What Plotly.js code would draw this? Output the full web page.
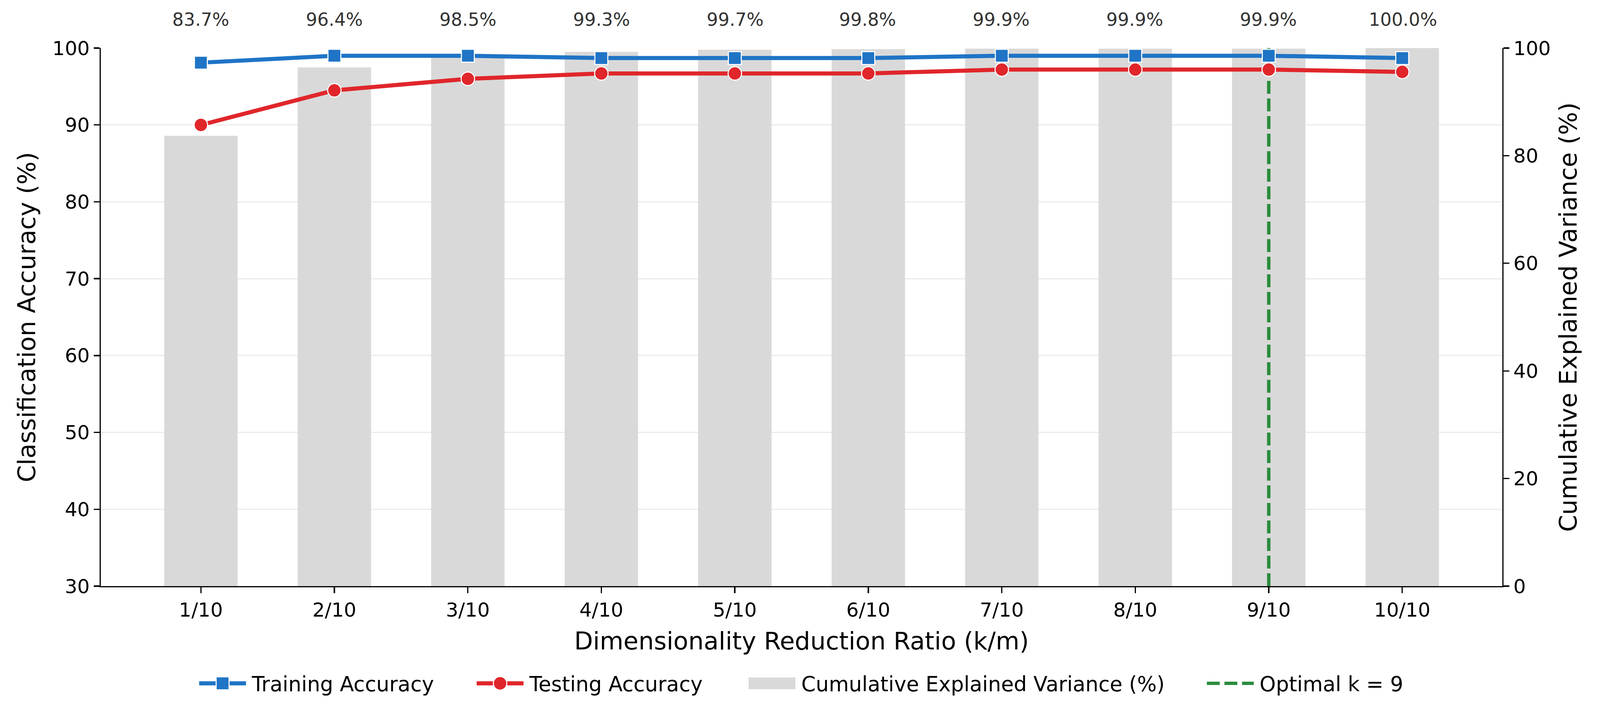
<!DOCTYPE html>
<html>
<head>
<meta charset="utf-8">
<script src="https://cdn.plot.ly/plotly-3.0.1.min.js"></script>
<style>
  html, body { margin: 0; padding: 0; background: #fff; }
  #wrap { width: 4100px; height: 1817px; overflow: hidden; position: relative; }
  /* drawn at 1/3 size, scaled up so legend symbols grow with the text */
  #chart { position: absolute; left: 0; top: 0; width: 1367px; height: 606px; transform: scale(3); transform-origin: 0 0; }
</style>
</head>
<body>
<div id="wrap"><div id="chart"></div></div>
<script>
// ratios k/m
var ratios = ['1/10', '2/10', '3/10', '4/10', '5/10', '6/10', '7/10', '8/10', '9/10', '10/10'];
var trainAcc = [98.1, 99.0, 99.0, 98.7, 98.7, 98.7, 99.0, 99.0, 99.0, 98.7];
var testAcc = [90.0, 94.5, 96.0, 96.7, 96.7, 96.7, 97.2, 97.2, 97.2, 96.9];
var cumVar = [83.7, 96.4, 98.5, 99.3, 99.7, 99.8, 99.9, 99.9, 99.9, 100.0];
var optimalK = 9;
var accRange = [30, 100];

var FONT = 'DejaVu Sans, Liberation Sans, sans-serif';
var blue = '#1f74c6';
var red = '#e0262b';
var green = '#2a8c3c';
var barGray = '#d9d9d9';

var bars = {
  type: 'bar',
  name: 'Cumulative Explained Variance (%)',
  x: ratios,
  y: cumVar,
  width: 0.55,
  marker: { color: barGray, line: { width: 0 } },
  yaxis: 'y',
  showlegend: false,
  hoverinfo: 'skip'
};

// legend swatch for the bars (wide box like the original)
var barKey = {
  type: 'scatter',
  mode: 'lines',
  name: bars.name,
  x: [null],
  y: [null],
  line: { color: barGray, width: 12.7 },
  yaxis: 'y',
  legend: 'legend3'
};

var optLine = {
  type: 'scatter',
  mode: 'lines',
  name: 'Optimal k = ' + optimalK,
  x: [ratios[optimalK - 1], ratios[optimalK - 1]],
  y: accRange,
  line: { color: green, width: 2.9, dash: '11px,4px' },
  yaxis: 'y2',
  legend: 'legend4'
};

var train = {
  type: 'scatter',
  mode: 'lines+markers',
  name: 'Training Accuracy',
  x: ratios,
  y: trainAcc,
  line: { color: blue, width: 3.5 },
  marker: { symbol: 'square', size: 11, color: blue, line: { color: '#fff', width: 0.9 } },
  yaxis: 'y2',
  legend: 'legend'
};

var test = {
  type: 'scatter',
  mode: 'lines+markers',
  name: 'Testing Accuracy',
  x: ratios,
  y: testAcc,
  line: { color: red, width: 3.5 },
  marker: { symbol: 'circle', size: 11.5, color: red, line: { color: '#fff', width: 0.9 } },
  yaxis: 'y2',
  legend: 'legend2'
};

var annotations = cumVar.map(function (v, i) {
  return {
    x: ratios[i], xref: 'x',
    y: 1.052, yref: 'paper',
    yanchor: 'middle',
    text: v.toFixed(1) + '%',
    showarrow: false,
    font: { family: FONT, size: 15.3, color: '#333' }
  };
});

function legendAt(x) {
  return {
    orientation: 'h',
    x: x, xanchor: 'left',
    yref: 'container',
    y: 0.038, yanchor: 'middle',
    font: { family: FONT, size: 17.6, color: '#000' },
    itemwidth: 40,
    bgcolor: 'rgba(0,0,0,0)',
    borderwidth: 0
  };
}

var axisCommon = {
  showline: true, linecolor: '#000', linewidth: 1.1,
  ticks: 'outside', ticklen: 5, tickwidth: 1.1, tickcolor: '#000',
  tickfont: { family: FONT, size: 16.7, color: '#000' },
  zeroline: false
};

var layout = {
  width: 1367,
  height: 606,
  paper_bgcolor: '#fff',
  plot_bgcolor: 'rgba(0,0,0,0)',
  font: { family: FONT, size: 16.7, color: '#000' },
  margin: { l: 86.3, r: 84.7, t: 41.3, b: 105.7, pad: 0 },
  xaxis: Object.assign({}, axisCommon, {
    type: 'category',
    range: [-0.75, 9.75],
    showgrid: false,
    title: { text: 'Dimensionality Reduction Ratio (k/m)', font: { family: FONT, size: 20.8 }, standoff: 10 }
  }),
  yaxis: Object.assign({}, axisCommon, {
    side: 'right',
    range: [0, 100],
    dtick: 20,
    showgrid: false,
    title: { text: 'Cumulative Explained Variance (%)', font: { family: FONT, size: 20.8 }, standoff: 8 }
  }),
  yaxis2: Object.assign({}, axisCommon, {
    overlaying: 'y',
    side: 'left',
    range: accRange,
    dtick: 10,
    showgrid: true, gridcolor: '#ebebeb', gridwidth: 1,
    title: { text: 'Classification Accuracy (%)', font: { family: FONT, size: 20.8 }, standoff: 8 }
  }),
  legend: legendAt(0.066),
  legend2: legendAt(0.264),
  legend3: legendAt(0.458),
  legend4: legendAt(0.785),
  annotations: annotations,
  showlegend: true
};

Plotly.newPlot('chart', [bars, barKey, optLine, train, test], layout, { displayModeBar: false, staticPlot: true });
</script>
</body>
</html>
